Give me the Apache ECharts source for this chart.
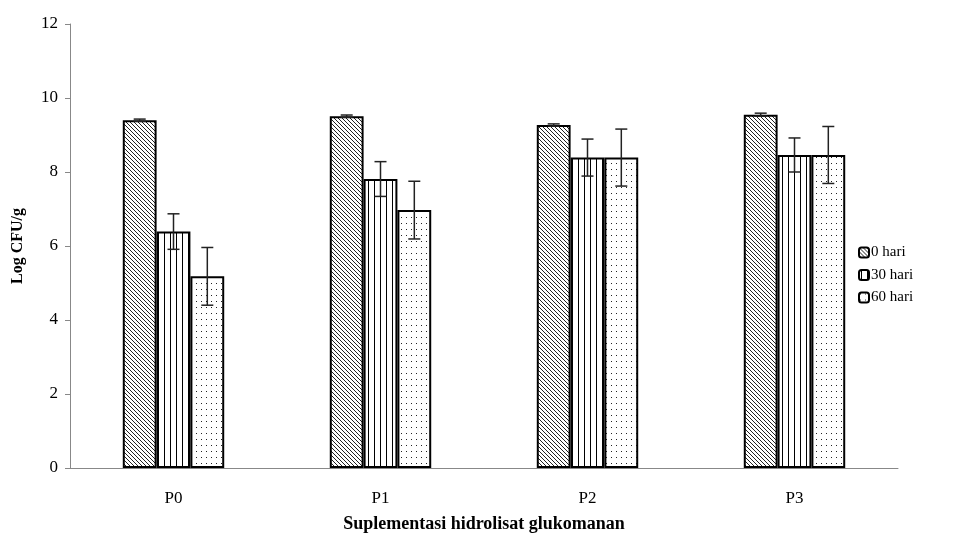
<!DOCTYPE html>
<html>
<head>
<meta charset="utf-8">
<script src="https://cdn.jsdelivr.net/npm/echarts@6/dist/echarts.min.js"></script>
<style>html,body{margin:0;padding:0;background:#fff}#c{width:975px;height:539px}</style>
</head>
<body>
<div id="c"></div>
<script>
const categories = ['P0', 'P1', 'P2', 'P3'];
const seriesNames = ['0 hari', '30 hari', '60 hari'];
const day0 = [9.40, 9.51, 9.27, 9.55];
const day30 = [6.39, 7.81, 8.39, 8.46];
const day60 = [5.18, 6.97, 8.39, 8.46];
const err0 = [0.03, 0.03, 0.03, 0.04];
const err30 = [0.48, 0.47, 0.50, 0.46];
const err60 = [0.78, 0.78, 0.77, 0.77];
const yTicks = [0, 2, 4, 6, 8, 10, 12];

function makePattern(type) {
  const c = document.createElement('canvas');
  let w, h;
  if (type === 'diag') { w = 4; h = 4; }
  else if (type === 'vert') { w = 6; h = 4; }
  else { w = 5; h = 6; }
  c.width = w; c.height = h;
  const ctx = c.getContext('2d');
  ctx.fillStyle = '#fff';
  ctx.fillRect(0, 0, w, h);
  ctx.fillStyle = '#000';
  if (type === 'diag') {
    ctx.fillStyle = '#222';
    for (let i = 0; i < w; i++) ctx.fillRect(i, i, 1, 1);
  } else if (type === 'vert') {
    ctx.fillRect(2, 0, 1, h);
  } else {
    ctx.fillStyle = '#222';
    ctx.fillRect(1, 1, 1, 1);
  }
  return { image: c, repeat: 'repeat' };
}
const patterns = [makePattern('diag'), makePattern('vert'), makePattern('dots')];
const values = [day0, day30, day60];
const errs = [err0, err30, err60];

const errData = [];
for (let s = 0; s < 3; s++) {
  for (let i = 0; i < categories.length; i++) {
    errData.push([i, values[s][i], errs[s][i], s]);
  }
}

const font = '"Liberation Serif", "Times New Roman", serif';
const chart = echarts.init(document.getElementById('c'));
const barSeries = seriesNames.map((n, s) => ({
  name: n,
  type: 'bar',
  data: values[s],
  barGap: '0%',
  barCategoryGap: '51%',
  itemStyle: { color: patterns[s], borderColor: '#000', borderWidth: 2 },
  emphasis: { disabled: true }
}));

chart.setOption({
  animation: false,
  backgroundColor: '#fff',
  textStyle: { fontFamily: font },
  grid: { left: 70, right: 77, top: 24, bottom: 71, containLabel: false },
  legend: {
    orient: 'vertical',
    left: 853,
    top: 240,
    itemWidth: 10,
    itemHeight: 10,
    itemGap: 7.5,
    data: seriesNames,
    textStyle: { fontFamily: font, fontSize: 15, color: '#000', padding: [0, 0, 0, -3] }
  },
  xAxis: {
    type: 'category',
    data: categories,
    axisTick: { show: false },
    axisLine: { lineStyle: { color: '#888', width: 1 } },
    axisLabel: { fontFamily: font, fontSize: 17, color: '#000', margin: 22 },
    name: 'Suplementasi hidrolisat glukomanan',
    nameLocation: 'middle',
    nameGap: 47,
    nameTextStyle: { fontFamily: font, fontSize: 18, fontWeight: 'bold', color: '#000' }
  },
  yAxis: {
    type: 'value',
    min: 0, max: 12, interval: 2,
    axisLine: { show: true, lineStyle: { color: '#888', width: 1 } },
    axisTick: { show: true, length: 5, lineStyle: { color: '#888' } },
    splitLine: { show: false },
    axisLabel: { fontFamily: font, fontSize: 17, color: '#000', margin: 12,
      formatter: v => yTicks.includes(v) ? String(v) : '' },
    name: 'Log CFU/g',
    nameLocation: 'middle',
    nameGap: 44,
    nameTextStyle: { fontFamily: font, fontSize: 16, fontWeight: 'bold', color: '#000' }
  },
  series: barSeries.concat([{
    type: 'custom',
    name: 'err',
    data: errData,
    z: 10,
    silent: true,
    encode: { x: 0, y: 1 },
    renderItem: function (params, api) {
      const cat = api.value(0), val = api.value(1), e = api.value(2), s = api.value(3);
      const band = api.size([1, 0])[0];
      const barW = band * 0.49 / 3;
      const off = (s - 1) * barW;
      const top = api.coord([cat, val + e]);
      const bot = api.coord([cat, val - e]);
      const x = top[0] + off;
      const cap = 6;
      const st = { stroke: '#222', lineWidth: 1.5 };
      return {
        type: 'group',
        children: [
          { type: 'line', shape: { x1: x, y1: top[1], x2: x, y2: bot[1] }, style: st },
          { type: 'line', shape: { x1: x - cap, y1: top[1], x2: x + cap, y2: top[1] }, style: st },
          { type: 'line', shape: { x1: x - cap, y1: bot[1], x2: x + cap, y2: bot[1] }, style: st }
        ]
      };
    }
  }])
});
</script>
</body>
</html>
